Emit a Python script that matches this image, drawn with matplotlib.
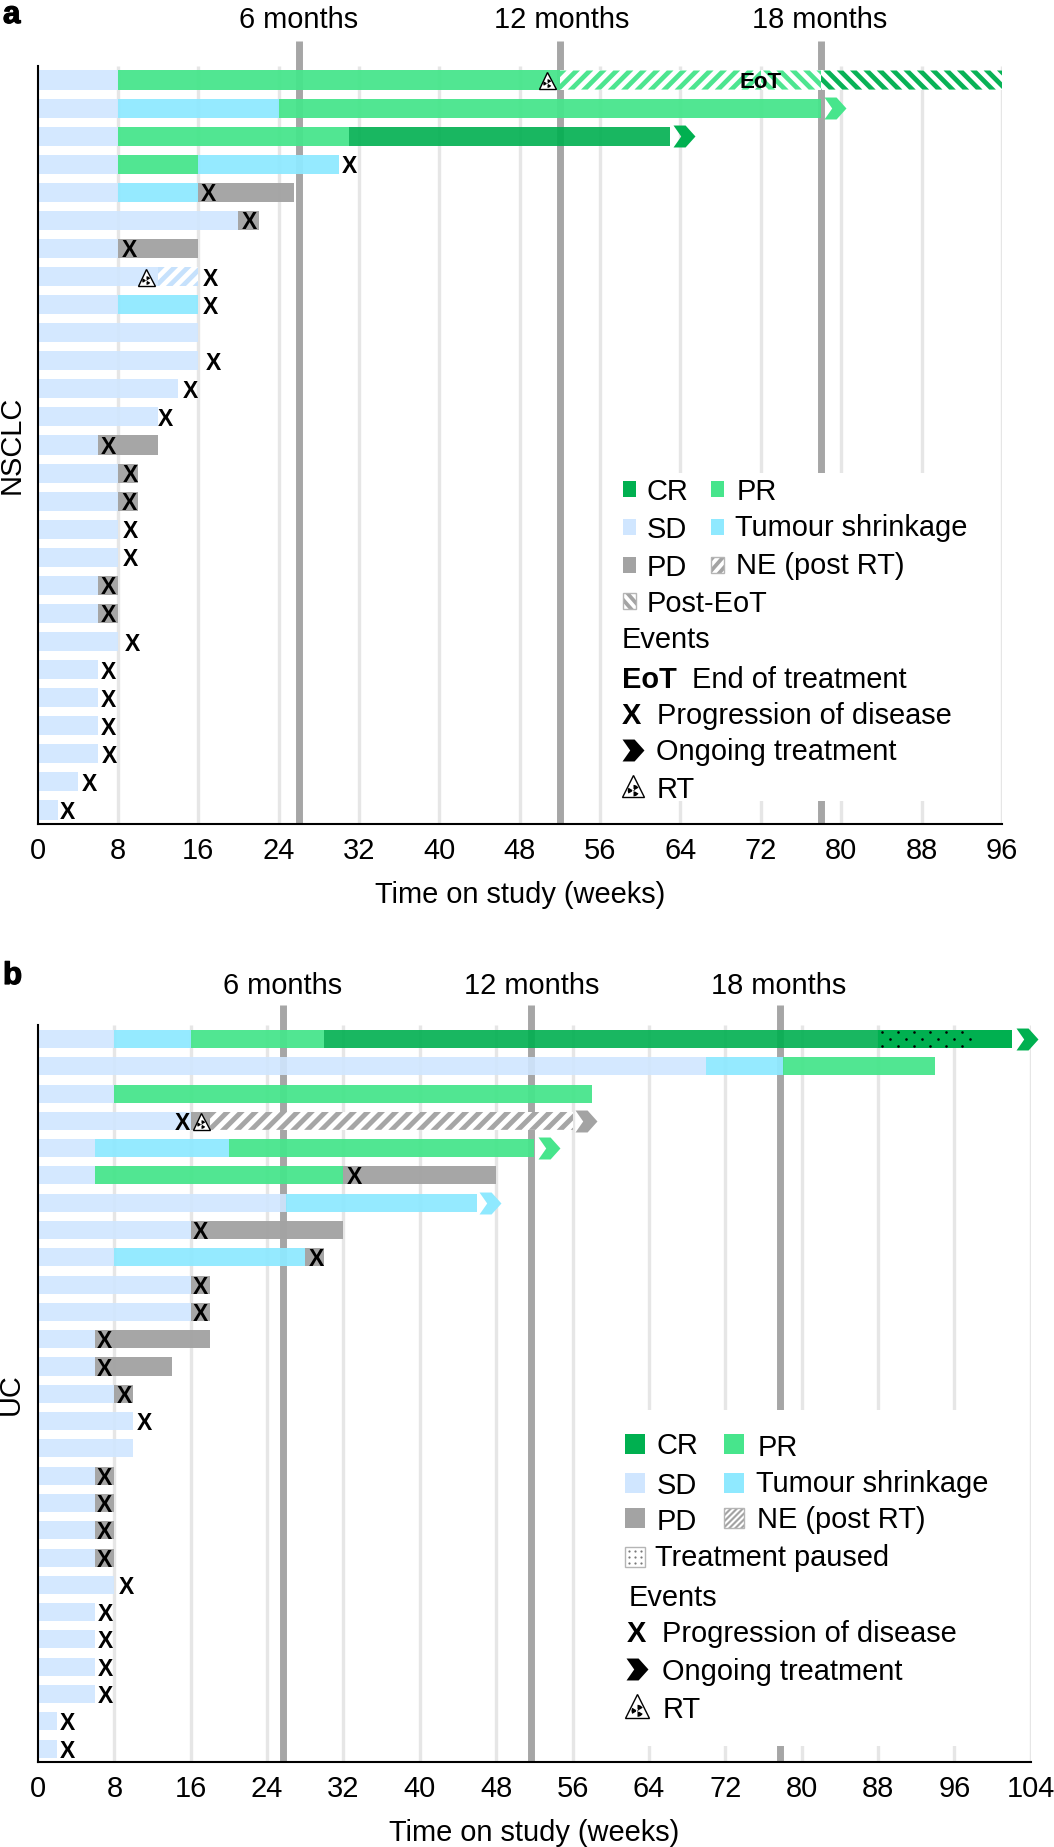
import matplotlib
matplotlib.use('Agg')
import matplotlib.pyplot as plt
import matplotlib.patheffects as pe
from matplotlib.patches import Rectangle, Polygon
from matplotlib.path import Path
import numpy as np

plt.rcParams['font.family'] = ['Liberation Sans', 'DejaVu Sans']

W, H = 1054, 1847
FS = 20.9

# colours
CR = '#00b050'
PR = '#47e58c'
SD = '#d0e6ff'
TS = '#8fe9ff'
PD = '#a3a3a3'
GRID = '#e6e6e6'
MONTH = '#a6a6a6'

# panel a, segments are (row, start week, end week)
a_sd = [(0, 0, 8), (1, 0, 8), (2, 0, 8), (3, 0, 8), (4, 0, 8), (5, 0, 20), (6, 0, 8), (7, 0, 12),
        (8, 0, 8), (9, 0, 16), (10, 0, 16), (11, 0, 14), (12, 0, 12), (13, 0, 6), (14, 0, 8),
        (15, 0, 8), (16, 0, 8), (17, 0, 8), (18, 0, 6), (19, 0, 6), (20, 0, 8), (21, 0, 6),
        (22, 0, 6), (23, 0, 6), (24, 0, 6), (25, 0, 4), (26, 0, 2)]
a_ts = [(1, 8, 24), (3, 16, 30), (4, 8, 16), (8, 8, 16)]
a_pr = [(0, 8, 52), (1, 24, 78), (2, 8, 31), (3, 8, 16)]
a_cr = [(2, 31, 63)]
a_pd = [(4, 16, 25.5), (5, 20, 22), (6, 8, 16), (13, 6, 12), (14, 8, 10), (15, 8, 10), (18, 6, 8), (19, 6, 8)]
a_x = [(3, 31), (4, 17), (5, 21.1), (6, 9.15), (7, 17.2), (8, 17.2), (10, 17.5), (11, 15.2),
       (12, 12.75), (13, 7.05), (14, 9.2), (15, 9.1), (16, 9.2), (17, 9.2), (18, 7.05), (19, 7.05),
       (20, 9.4), (21, 7.05), (22, 7.05), (23, 7.05), (24, 7.15), (25, 5.15), (26, 3)]
a_arrows = [(1, 79.4, PR), (2, 64.3, CR)]
a_rt = [(0, 50.7), (7, 10.8)]
a_fwd_hatch = [(0, 52, 72, PR), (7, 12, 16, '#c4e0fc')]
a_back_hatch = [(0, 72, 78, PR), (0, 78, 96, CR)]
a_ticks = [0, 8, 16, 24, 32, 40, 48, 56, 64, 72, 80, 88, 96]
a_months = [26, 52, 78]

# panel b
b_sd = [(0, 0, 8), (1, 0, 70), (2, 0, 8), (3, 0, 16), (4, 0, 6), (5, 0, 6), (6, 0, 26), (7, 0, 16),
        (8, 0, 8), (9, 0, 16), (10, 0, 16), (11, 0, 6), (12, 0, 6), (13, 0, 8), (14, 0, 10),
        (15, 0, 10), (16, 0, 6), (17, 0, 6), (18, 0, 6), (19, 0, 6), (20, 0, 8), (21, 0, 6),
        (22, 0, 6), (23, 0, 6), (24, 0, 6), (25, 0, 2), (26, 0, 2)]
b_ts = [(0, 8, 16), (1, 70, 78), (4, 6, 20), (6, 26, 46), (8, 8, 28)]
b_pr = [(0, 16, 30), (1, 78, 94), (2, 8, 58), (4, 20, 52), (5, 6, 32)]
b_cr = [(0, 30, 88)]
b_cr_paused = [(0, 88, 98)]
b_cr_late = [(0, 98, 102)]
b_pd = [(3, 16, 18), (5, 32, 48), (7, 16, 32), (8, 28, 30), (9, 16, 18), (10, 16, 18), (11, 6, 18),
        (12, 6, 14), (13, 8, 10), (16, 6, 8), (17, 6, 8), (18, 6, 8), (19, 6, 8)]
b_x = [(3, 15.1), (5, 33.2), (7, 17), (8, 29.2), (9, 17), (10, 17), (11, 7), (12, 7), (13, 9.1),
       (14, 11.2), (16, 7), (17, 7), (18, 7), (19, 7), (20, 9.3), (21, 7.1), (22, 7.1), (23, 7.1),
       (24, 7.1), (25, 3.1), (26, 3.1)]
b_arrows = [(0, 103.6, CR), (3, 57.4, PD), (4, 53.5, PR), (6, 47.4, TS)]
b_rt = [(3, 17.1)]
b_fwd_hatch = [(3, 18, 56, PD)]
b_ticks = [0, 8, 16, 24, 32, 40, 48, 56, 64, 72, 80, 88, 96, 104]
b_months = [25.7, 51.7, 77.7]


def ax_from_px(x0, y0, x1, y1):
    return fig.add_axes([x0 / W, 1 - y1 / H, (x1 - x0) / W, (y1 - y0) / H])


def stripes(ax, x0, x1, y0, y1, pitch, slant, color, alpha=1.0):
    # diagonal stripes clipped to a box, half of each pitch is filled
    clip = Rectangle((x0, y0), x1 - x0, y1 - y0, transform=ax.transData)
    for s in np.arange(x0 - abs(slant) - pitch, x1 + abs(slant) + pitch, pitch):
        pts = [(s, y1), (s + pitch / 2, y1), (s + pitch / 2 + slant, y0), (s + slant, y0)]
        p = Polygon(pts, closed=True, fc=color, ec='none', alpha=alpha, zorder=3.2)
        ax.add_patch(p)
        p.set_clip_path(clip)


# chevron marker
chevron = Path([(-1, -1), (0.1, -1), (1, 0), (0.1, 1), (-1, 1), (-0.3, 0), (-1, -1)], closed=True)

# three blades and a dot, the stray corner keeps the marker scale equal to the triangle
blades = []
for ang in [30, 150, 270]:
    w = Path.wedge(ang, ang + 60)
    blades.append(Path(w.vertices * [0.5, -0.5] + [0, -0.36], w.codes))
blades.append(Path(Path.unit_circle().vertices * 0.1 + [0, -0.36], Path.unit_circle().codes))
blades.append(Path([(-1, -1), (-1, -1)], [Path.MOVETO, Path.LINETO]))
trefoil = Path.make_compound_path(*blades)


def rt_symbol(ax, x, y, px):
    ms = px * 0.72
    ax.plot([x], [y], marker='^', ms=ms, mfc='white', mec='black', mew=1.0, ls='none', zorder=6)
    ax.plot([x], [y], marker=trefoil, ms=ms, mfc='black', mec='none', mew=0, ls='none', zorder=7)


def bars(ax, segs, color, height, alpha=0.9):
    rows = [s[0] for s in segs]
    starts = [s[1] for s in segs]
    widths = [s[2] - s[1] for s in segs]
    ax.barh(rows, widths, left=starts, height=height, color=color, alpha=alpha, lw=0, zorder=3)


def panel(ax, xmax, ticks, months, box, top_over):
    ax.set_xlim(0, xmax)
    ax.set_ylim(26.5, -0.5)
    ax.set_yticks([])
    ax.set_xticks(ticks)
    ax.tick_params(axis='x', length=0, pad=9, labelsize=FS)
    for s in ['top', 'right']:
        ax.spines[s].set_visible(False)
    for s in ['left', 'bottom']:
        ax.spines[s].set_linewidth(1.5)
        ax.spines[s].set_zorder(8)
    for t in ticks[1:]:
        ax.axvline(t, color=GRID, lw=2.4, zorder=1, solid_capstyle='butt')
    for m in months:
        ax.axvline(m, 0, top_over, color=MONTH, lw=5, zorder=1.5, clip_on=False, solid_capstyle='butt')
    # white box behind the legend breaks the lines
    ax.add_patch(Rectangle((box[0], box[2]), box[1] - box[0], box[3] - box[2], fc='white', ec='none', zorder=2))


def hatch_rows(ax, segs, height, pitch, slant):
    for row, start, end, color in segs:
        y0, y1 = row - height / 2, row + height / 2
        ax.add_patch(Rectangle((start, y0), end - start, height, fc='white', ec='none', zorder=3.1))
        stripes(ax, start, end, y0, y1, pitch, slant, color, alpha=0.97)


def marks(ax, xs, arrows, rts):
    for row, x in xs:
        ax.text(x, row, 'X', ha='center', va='center_baseline', fontsize=16.5, fontweight='bold', zorder=9)
    for row, x, color in arrows:
        ax.plot([x], [row], marker=chevron, ms=15.8, mfc=color, mec='none', mew=0, ls='none',
                clip_on=False, zorder=4)
    for row, x in rts:
        rt_symbol(ax, x, row, 17)


fig = plt.figure(figsize=(W / 100, H / 100), dpi=100, facecolor='white')

# panel a
ax_a = ax_from_px(37.5, 66, 1002, 824)
panel(ax_a, 96, a_ticks, a_months, (60, 95, 14.0, 25.68), 1.033)
bars(ax_a, a_sd, SD, 0.68)
bars(ax_a, a_ts, TS, 0.68, alpha=0.95)
bars(ax_a, a_pr, PR, 0.68, alpha=0.95)
bars(ax_a, a_cr, CR, 0.68)
bars(ax_a, a_pd, PD, 0.68, alpha=0.97)
slant_a = 19 / 10.05
hatch_rows(ax_a, a_fwd_hatch, 0.68, 1.33, slant_a)
hatch_rows(ax_a, a_back_hatch, 0.68, 1.33, -slant_a)
marks(ax_a, a_x, a_arrows, a_rt)
ax_a.text(72, 0, 'EoT', ha='center', va='center_baseline', fontsize=16, fontweight='bold', zorder=9)
ax_a.set_xlabel('Time on study (weeks)', fontsize=FS, labelpad=12)
ax_a.set_ylabel('NSCLC', fontsize=FS)
ax_a.yaxis.set_label_coords(-12 / 965, 0.5)

# panel b
ax_b = ax_from_px(38, 1025.3, 1030.7, 1762.3)
panel(ax_b, 104, b_ticks, b_months, (60, 102.5, 13.58, 25.89), 1.028)
bars(ax_b, b_sd, SD, 0.66)
bars(ax_b, b_ts, TS, 0.66, alpha=0.95)
bars(ax_b, b_pr, PR, 0.66, alpha=0.95)
bars(ax_b, b_cr, CR, 0.66)
bars(ax_b, b_cr_paused, CR, 0.66, alpha=1)
bars(ax_b, b_cr_late, CR, 0.66, alpha=1)
bars(ax_b, b_pd, PD, 0.66, alpha=0.97)
hatch_rows(ax_b, b_fwd_hatch, 0.66, 1.47, 18 / 9.545)
for row, start, end in b_cr_paused:
    dx, dy = np.meshgrid(np.arange(start + 0.4, end, 1.68), [-0.27, 0, 0.27])
    dx = dx + np.array([[0], [0.84], [0]])
    ax_b.scatter(dx.ravel(), row + dy.ravel(), s=3.5, c='black', lw=0, zorder=3.5)
marks(ax_b, b_x, b_arrows, b_rt)
ax_b.set_xlabel('Time on study (weeks)', fontsize=FS, labelpad=12)
ax_b.set_ylabel('UC', fontsize=FS)
ax_b.yaxis.set_label_coords(-13 / 993, 0.5)

# everything else sits on a pixel overlay
ov = fig.add_axes([0, 0, 1, 1], zorder=20)
ov.set_xlim(0, W)
ov.set_ylim(H, 0)
ov.axis('off')
ov.patch.set_visible(False)


def lab(x, yc, s, ha='left', **kw):
    # yc is the middle of the capitals
    kw.setdefault('fontsize', FS)
    ov.text(x, yc + 10.5, s, ha=ha, va='baseline', **kw)


def swatch(x, y, w, h, color):
    ov.add_patch(Rectangle((x, y - h / 2), w, h, fc=color, ec='none'))


def hatch_icon(x, y, w, h, pitch, slant):
    ov.add_patch(Rectangle((x, y - h / 2), w, h, fc='white', ec='none'))
    stripes(ov, x, x + w, y - h / 2, y + h / 2, pitch, slant, PD)
    ov.add_patch(Rectangle((x, y - h / 2), w, h, fc='none', ec='#b5b5b5', lw=1.0, zorder=4))


heavy = [pe.withStroke(linewidth=0.9, foreground='black')]
ov.text(3, 23, 'a', fontsize=22.5, fontweight='bold', va='baseline', ha='left', path_effects=heavy)
ov.text(3, 984, 'b', fontsize=22.5, fontweight='bold', va='baseline', ha='left', path_effects=heavy)

for x, s in zip([299, 561.7, 820], ['6 months', '12 months', '18 months']):
    lab(x, 17.5, s, ha='center')
for x, s in zip([283, 532, 779], ['6 months', '12 months', '18 months']):
    lab(x, 983, s, ha='center')

# legend a
swatch(622.7, 489, 13.5, 16, CR)
swatch(710.7, 489, 13.5, 16, PR)
swatch(622.7, 527, 13.5, 16, SD)
swatch(710.7, 527, 13.5, 16, TS)
swatch(622.7, 565, 13.5, 16, PD)
hatch_icon(710.7, 565, 13.5, 16, 10, 14)
hatch_icon(622.7, 601, 13.5, 16, 10, -14)
lab(647, 489, 'CR')
lab(737, 489, 'PR')
lab(647, 527, 'SD')
lab(735, 525, 'Tumour shrinkage')
lab(647, 565, 'PD')
lab(736, 564, 'NE (post RT)')
lab(647, 601, 'Post-EoT')
lab(622, 638, 'Events')
lab(622, 677, 'EoT', fontweight='bold')
lab(692, 677, 'End of treatment')
lab(622, 713, 'X', fontweight='bold')
lab(657, 713, 'Progression of disease')
ov.plot([633], [750], marker=chevron, ms=15.8, mfc='black', mec='none', mew=0, ls='none')
lab(656, 750, 'Ongoing treatment')
rt_symbol(ov, 633, 786, 23)
lab(657, 787, 'RT')

# legend b
swatch(625, 1444, 20, 20, CR)
swatch(724, 1444, 20, 20, PR)
swatch(625, 1483, 20, 20, SD)
swatch(724, 1483, 20, 20, TS)
swatch(625, 1518, 20, 20, PD)
hatch_icon(724, 1518, 20, 20, 6, 20)
ov.add_patch(Rectangle((625, 1547), 20, 20, fc='white', ec='#b5b5b5', lw=1.0))
dot_x, dot_y = np.meshgrid([629, 635, 641], [1551, 1557, 1563])
ov.scatter(dot_x.ravel(), dot_y.ravel(), s=2.5, c='#777777', lw=0)
lab(657, 1444, 'CR')
lab(758, 1445, 'PR')
lab(657, 1483, 'SD')
lab(756, 1482, 'Tumour shrinkage')
lab(657, 1519, 'PD')
lab(757, 1518, 'NE (post RT)')
lab(655, 1556, 'Treatment paused')
lab(629, 1595, 'Events')
lab(627, 1632, 'X', fontweight='bold')
lab(662, 1632, 'Progression of disease')
ov.plot([637], [1669], marker=chevron, ms=15.8, mfc='black', mec='none', mew=0, ls='none')
lab(662, 1669, 'Ongoing treatment')
rt_symbol(ov, 637, 1706, 24)
lab(663, 1707, 'RT')

fig.savefig('out.png', dpi=100, facecolor='white')
